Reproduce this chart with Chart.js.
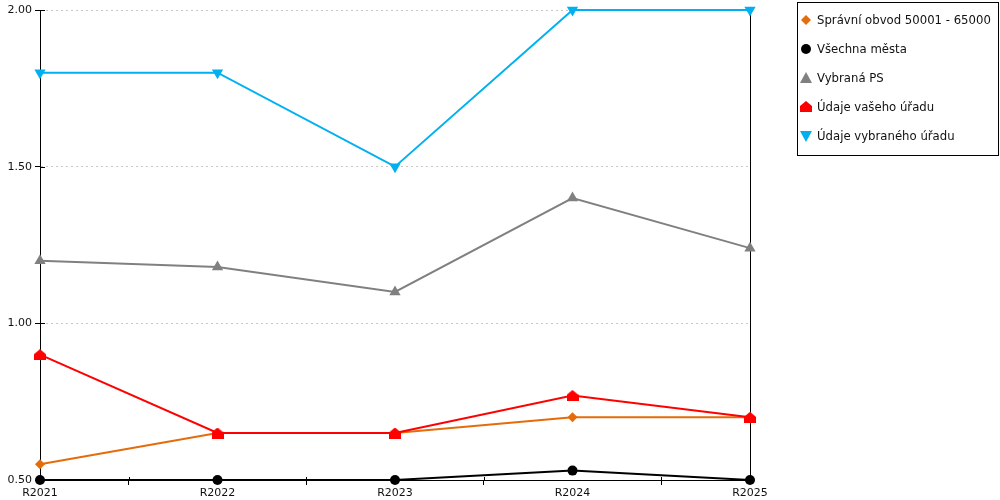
<!DOCTYPE html>
<html>
<head>
<meta charset="utf-8">
<script src="https://cdn.jsdelivr.net/npm/chart.js@4/dist/chart.umd.min.js"></script>
<style>
  html, body { margin: 0; padding: 0; background: #fff; }
  #wrap { width: 1000px; height: 500px; }
</style>
</head>
<body>
<div id="wrap"><canvas id="chart"></canvas></div>
<script>
const years = ['R2021', 'R2022', 'R2023', 'R2024', 'R2025'];
const obvod = [0.55, 0.65, 0.65, 0.70, 0.70];
const mesta = [0.50, 0.50, 0.50, 0.53, 0.50];
const vybranaPS = [1.20, 1.18, 1.10, 1.40, 1.24];
const vasUrad = [0.90, 0.65, 0.65, 0.77, 0.70];
const vybranyUrad = [1.80, 1.80, 1.50, 2.00, 2.00];
const yTicks = [0.5, 1.0, 1.5, 2.0];

// house shaped marker (no such style in Chart.js)
function makeHouse(color, w, h) {
    const c = document.createElement('canvas');
    c.width = w; c.height = h;
    const g = c.getContext('2d');
    g.fillStyle = color;
    g.beginPath();
    g.moveTo(0, h * 0.45);
    g.lineTo(w / 2, 0);
    g.lineTo(w, h * 0.45);
    g.lineTo(w, h);
    g.lineTo(0, h);
    g.closePath();
    g.fill();
    return c;
}
const house = makeHouse('#ff0000', 12, 11);

function drawMarker(ctx, style, x, y, color) {
    ctx.save();
    ctx.fillStyle = color;
    ctx.beginPath();
    if (style === 'rectRot') {
        ctx.moveTo(x, y - 5); ctx.lineTo(x + 5, y); ctx.lineTo(x, y + 5); ctx.lineTo(x - 5, y);
    } else if (style === 'circle') {
        ctx.arc(x, y, 5, 0, Math.PI * 2);
    } else if (style === 'triangle') {
        ctx.moveTo(x, y - 6); ctx.lineTo(x + 6, y + 5); ctx.lineTo(x - 6, y + 5);
    } else if (style === 'down') {
        ctx.moveTo(x - 6, y - 5); ctx.lineTo(x + 6, y - 5); ctx.lineTo(x, y + 6);
    }
    ctx.closePath();
    ctx.fill();
    if (style === 'house') ctx.drawImage(house, x - 6, y - 6);
    ctx.restore();
}

const boxLegend = {
    id: 'boxLegend',
    afterDraw(chart) {
        const ctx = chart.ctx;
        ctx.save();
        ctx.strokeStyle = '#000';
        ctx.lineWidth = 1;
        ctx.strokeRect(797.5, 2.5, 201, 153);
        ctx.font = '11.7px "DejaVu Sans"';
        ctx.textBaseline = 'middle';
        // datasets are stored bottom-to-top for drawing, legend lists them the other way
        chart.data.datasets.slice().reverse().forEach((ds, i) => {
            const y = 20 + i * 29;
            drawMarker(ctx, ds.legendStyle, 806, y, ds.borderColor);
            ctx.fillStyle = '#111';
            ctx.fillText(ds.label, 817, y + 1);
        });
        ctx.restore();
    }
};

// small solid tick marks that cross into the plot area
const innerTicks = {
    id: 'innerTicks',
    beforeDatasetsDraw(chart) {
        const { ctx, chartArea, scales } = chart;
        ctx.save();
        ctx.strokeStyle = '#000';
        ctx.lineWidth = 1;
        ctx.beginPath();
        scales.y.ticks.forEach(t => {
            const py = Math.round(scales.y.getPixelForValue(t.value)) + 0.5;
            ctx.moveTo(chartArea.left, py);
            ctx.lineTo(chartArea.left + 5, py);
        });
        for (let i = 0; i < years.length - 1; i++) {
            const px = Math.round((scales.x.getPixelForValue(i) + scales.x.getPixelForValue(i + 1)) / 2) + 0.5;
            ctx.moveTo(px, chartArea.bottom);
            ctx.lineTo(px, chartArea.bottom - 3);
        }
        ctx.stroke();
        ctx.restore();
    }
};

new Chart(document.getElementById('chart'), {
    type: 'line',
    data: {
        labels: years,
        datasets: [
            { label: 'Správní obvod 50001 - 65000', data: obvod, borderColor: '#e46c0a', backgroundColor: '#e46c0a',
              pointStyle: 'rectRot', pointRadius: 5, legendStyle: 'rectRot' },
            { label: 'Všechna města', data: mesta, borderColor: '#000000', backgroundColor: '#000000',
              pointStyle: 'circle', pointRadius: 5, legendStyle: 'circle' },
            { label: 'Vybraná PS', data: vybranaPS, borderColor: '#808080', backgroundColor: '#808080',
              pointStyle: 'triangle', pointRadius: 6.5, legendStyle: 'triangle' },
            { label: 'Údaje vašeho úřadu', data: vasUrad, borderColor: '#ff0000', backgroundColor: '#ff0000',
              pointStyle: house, legendStyle: 'house' },
            { label: 'Údaje vybraného úřadu', data: vybranyUrad, borderColor: '#00b0f0', backgroundColor: '#00b0f0',
              pointStyle: 'triangle', pointRotation: 180, pointRadius: 6.5, legendStyle: 'down' }
        ].map(d => Object.assign({ borderWidth: 2, tension: 0, pointBorderWidth: 0, pointHoverRadius: 6, clip: false }, d)).reverse()
    },
    options: {
        responsive: true,
        maintainAspectRatio: false,
        animation: false,
        layout: { padding: { left: 0, right: 250, top: 10, bottom: 0 } },
        plugins: {
            legend: { display: false },
            tooltip: { enabled: false }
        },
        scales: {
            x: {
                offset: false,
                afterFit: s => { s.height = 20; },
                grid: { offset: true, drawOnChartArea: false, color: '#000', tickLength: 5 },
                border: { color: '#000', width: 1 },
                ticks: { color: '#111', font: { family: 'DejaVu Sans', size: 11 }, padding: 2, maxRotation: 0 }
            },
            y: {
                min: 0.5, max: 2,
                afterBuildTicks: s => { s.ticks = yTicks.map(v => ({ value: v })); },
                afterFit: s => { s.width = 40; },
                grid: { color: '#c8c8c8', tickColor: '#000', tickLength: 5, tickBorderDash: [] },
                border: { color: '#000', width: 1, dash: [2, 3] },
                ticks: { color: '#111', font: { family: 'DejaVu Sans', size: 11 }, padding: 3,
                         callback: v => Number(v).toFixed(2) }
            },
            y2: {
                position: 'right',
                min: 0.5, max: 2,
                afterFit: s => { s.width = 0; },
                grid: { display: false },
                ticks: { display: false },
                border: { color: '#000', width: 1 }
            }
        }
    },
    plugins: [innerTicks, boxLegend]
});
</script>
</body>
</html>
